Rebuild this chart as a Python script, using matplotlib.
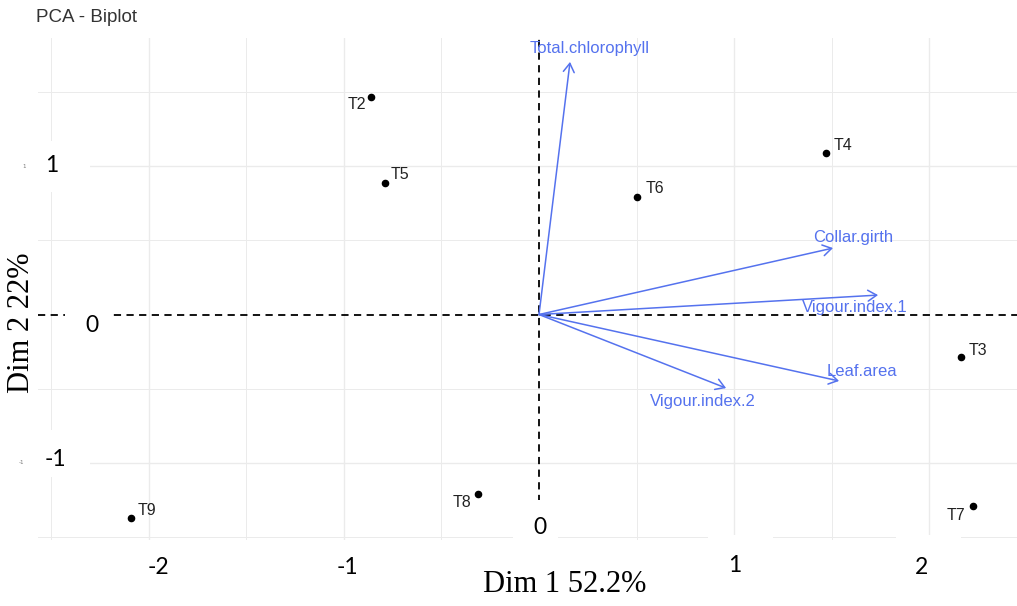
import matplotlib
matplotlib.use("Agg")
import matplotlib.pyplot as plt
from matplotlib.patches import Rectangle, FancyArrowPatch

# ---------------- data ----------------
ind_names = ["T2", "T5", "T6", "T4", "T3", "T7", "T8", "T9"]
ind_x = [-0.861, -0.789, 0.502, 1.471, 2.163, 2.225, -0.313, -2.091]
ind_y = [1.467, 0.887, 0.792, 1.089, -0.287, -1.291, -1.210, -1.372]

var_names = ["Total.chlorophyll", "Collar.girth", "Vigour.index.1", "Leaf.area", "Vigour.index.2"]
var_x = [0.159, 1.507, 1.738, 1.538, 0.959]
var_y = [1.703, 0.448, 0.131, -0.448, -0.496]

x_ticks = [-2, -1, 1, 2]
x_tick_labels = ["-2", "-1", "1", "2"]
y_ticks = [1, 0, -1]
y_tick_labels = ["1", "0", "-1"]

title = "PCA - Biplot"
xlabel = "Dim 1 52.2%"
ylabel = "Dim 2 22%"

# label offsets (pixels) - styling only
ind_off = {"T2": (-14, -8), "T5": (15, 8), "T6": (18, 9), "T4": (17, 7),
           "T3": (17, 7), "T7": (-17, -9), "T8": (-16, -8), "T9": (16, 8)}
var_off = {"Total.chlorophyll": (20, 13), "Collar.girth": (20, 11),
           "Vigour.index.1": (-23, -12), "Leaf.area": (23, 9),
           "Vigour.index.2": (-23, -13)}

BLUE = "#5572EE"
W, H = 1017, 606

fig = plt.figure(figsize=(W / 100, H / 100), dpi=100)
fig.patch.set_facecolor("white")


def fx(px):
    return px / W


def fy(py):
    return 1 - py / H


ax = fig.add_axes([fx(38), fy(540), fx(1017) - fx(38), fy(38) - fy(540)])
ax.set_xlim(-2.568, 2.450)
ax.set_ylim(-1.520, 1.864)
for s in ax.spines.values():
    s.set_visible(False)
ax.set_xticks([])
ax.set_yticks([])

# grid
for gx in [-2.5, -2, -1.5, -1, -0.5, 0.5, 1, 1.5, 2]:
    ax.axvline(gx, color="#EBEBEB", lw=1.0 if gx == int(gx) else 0.7, zorder=0)
for gy in [-1.5, -1, -0.5, 0.5, 1, 1.5]:
    ax.axhline(gy, color="#EBEBEB", lw=1.0 if gy == int(gy) else 0.7, zorder=0)

# zero lines
ax.axhline(0, color="black", lw=1.3, ls=(0, (4, 3)), zorder=1)
ax.axvline(0, color="black", lw=1.3, ls=(0, (4, 3)), zorder=1)

# individuals
ax.scatter(ind_x, ind_y, s=20, color="black", zorder=3)
for n, x, y in zip(ind_names, ind_x, ind_y):
    ox, oy = ind_off[n]
    ax.annotate(n, (x, y), xytext=(ox, oy), textcoords="offset pixels",
                ha="center", va="center", fontsize=11.5, color="#222222",
                family="Liberation Sans", zorder=4)

# variables
for n, x, y in zip(var_names, var_x, var_y):
    arr = FancyArrowPatch((0, 0), (x, y), arrowstyle="->,head_length=0.45,head_width=0.28",
                          mutation_scale=14, color=BLUE, lw=1.1,
                          shrinkA=0, shrinkB=0, zorder=2)
    ax.add_patch(arr)
    ox, oy = var_off[n]
    ax.annotate(n, (x, y), xytext=(ox, oy), textcoords="offset pixels",
                ha="center", va="center", fontsize=12, color=BLUE,
                family="Liberation Sans", zorder=4)

# title
fig.text(fx(36), fy(18), title, ha="left", va="center", fontsize=13.5,
         color="#333333", family="Liberation Sans")

# tiny original tick labels
fig.text(fx(24), fy(167), "1", ha="center", va="center", fontsize=4, color="#777777")
fig.text(fx(21), fy(462), "-1", ha="center", va="center", fontsize=4, color="#777777")

# white overlay boxes (pasted labels)
boxes = [(30, 141, 90, 192), (65, 300, 112, 350), (30, 430, 90, 477),
         (513, 500, 558, 555), (708, 535, 773, 595), (896, 535, 961, 595)]
for x0, y0, x1, y1 in boxes:
    fig.patches.append(Rectangle((fx(x0), fy(y1)), fx(x1) - fx(x0), fy(y0) - fy(y1),
                                 transform=fig.transFigure, facecolor="white",
                                 edgecolor="none", zorder=5))

big = dict(fontsize=16.5, family="Lato", color="black", ha="center", va="center", zorder=6)
# y overlay labels
y_pos = {"1": (52, 166), "0": (92, 325), "-1": (55, 460)}
for t in y_tick_labels:
    px, py = y_pos[t]
    fig.text(fx(px), fy(py), t, **big)
# x overlay labels
x_pos = {"-2": (158, 567), "-1": (347, 567), "1": (735, 566), "2": (922, 567)}
for t in x_tick_labels:
    px, py = x_pos[t]
    fig.text(fx(px), fy(py), t, **big)
fig.text(fx(540), fy(528), "0", **big)

# axis titles
fig.text(fx(565), fy(584), xlabel, ha="center", va="center", fontsize=22,
         family="Liberation Serif", color="black", zorder=6)
fig.text(fx(22), fy(323), ylabel, ha="center", va="center", fontsize=22,
         family="Liberation Serif", color="black", rotation=90, zorder=6)

fig.savefig("out.png", dpi=100, facecolor="white")
